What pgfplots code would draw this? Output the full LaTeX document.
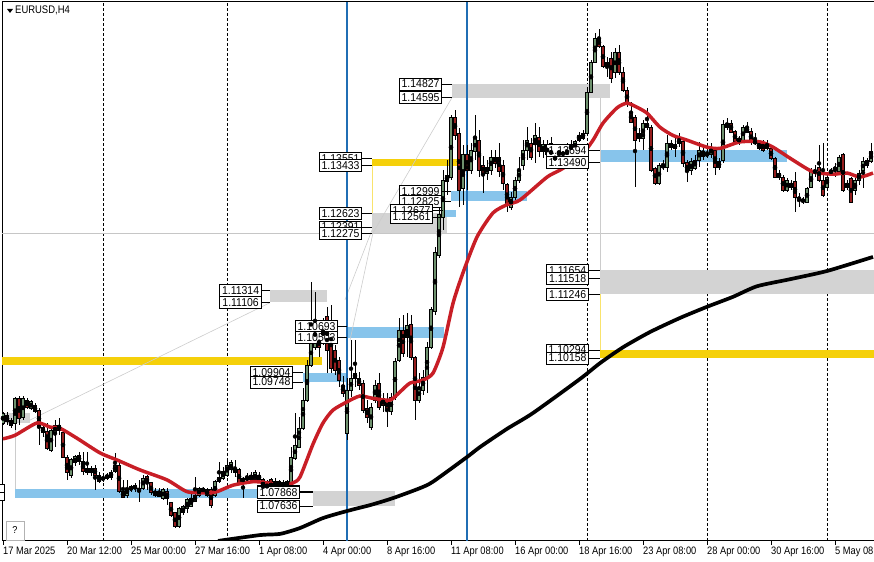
\documentclass[border=0pt]{standalone}
\usepackage{fontspec}
\usepackage{pgfplots}
\usepackage{pgfplotstable}
\pgfplotsset{compat=1.18}
\setmainfont{Liberation Sans}
\newfontfamily\mtfont[FakeStretch=0.86]{Liberation Sans}
\newfontfamily\lblfont[FakeStretch=0.92]{Liberation Sans}

\definecolor{zgray}{RGB}{211,211,211}
\definecolor{zblue}{RGB}{135,196,235}
\definecolor{zgold}{RGB}{245,208,10}
\definecolor{maRed}{RGB}{200,30,38}
\definecolor{bull}{RGB}{110,145,110}
\definecolor{bear}{RGB}{150,30,30}
\definecolor{vblue}{RGB}{32,110,180}

\tikzset{lblbox/.style={draw=black, fill=white, line width=0.8bp, inner sep=0pt,
  minimum width=42bp, minimum height=12bp, font=\lblfont\fontsize{11.4bp}{12bp}\selectfont}}

% zone: colour, k from, k to, price low, price high
\newcommand{\zone}[5]{\addplot[fill=#1, draw=none, forget plot] coordinates {(#2,#4) (#3,#4) (#3,#5) (#2,#5)} -- cycle;}
% price label: box right edge (k), zone start (k), price
\newcommand{\plabel}[3]{%
  \draw[black, line width=0.8bp] (axis cs:#1,#3) -- (axis cs:#2,#3);
  \node[lblbox, anchor=east] at (axis cs:#1,#3) {#3};}

% EURUSD H4 candles, k = bar number from the left edge
\pgfplotstableread{
k o h l c
0 1.0905 1.0924 1.0901 1.0922
1 1.0918 1.0924 1.0901 1.0907
2 1.0910 1.0913 1.0896 1.0901
3 1.0905 1.0949 1.0893 1.0947
4 1.0947 1.0951 1.0901 1.0913
5 1.0915 1.0951 1.0910 1.0947
6 1.0944 1.0947 1.0929 1.0932
7 1.0930 1.0944 1.0927 1.0941
8 1.0935 1.0939 1.0922 1.0924
9 1.0927 1.0930 1.0867 1.0898
10 1.0898 1.0905 1.0881 1.0888
11 1.0890 1.0905 1.0859 1.0862
12 1.0859 1.0896 1.0856 1.0893
13 1.0888 1.0910 1.0864 1.0901
14 1.0901 1.0913 1.0884 1.0893
15 1.0888 1.0890 1.0845 1.0847
16 1.0847 1.0850 1.0808 1.0820
17 1.0816 1.0845 1.0811 1.0842
18 1.0837 1.0850 1.0832 1.0847
19 1.0850 1.0856 1.0833 1.0839
20 1.0839 1.0856 1.0816 1.0822
21 1.0820 1.0856 1.0816 1.0828
22 1.0827 1.0832 1.0815 1.0820
23 1.0828 1.0833 1.0791 1.0816
24 1.0816 1.0822 1.0803 1.0805
25 1.0808 1.0816 1.0805 1.0813
26 1.0811 1.0820 1.0808 1.0816
27 1.0813 1.0825 1.0808 1.0820
28 1.0822 1.0854 1.0820 1.0833
29 1.0833 1.0837 1.0786 1.0788
30 1.0788 1.0808 1.0777 1.0779
31 1.0782 1.0808 1.0777 1.0794
32 1.0791 1.0799 1.0788 1.0796
33 1.0798 1.0803 1.0788 1.0793
34 1.0794 1.0808 1.0771 1.0788
35 1.0794 1.0816 1.0791 1.0811
36 1.0813 1.0816 1.0791 1.0803
37 1.0803 1.0805 1.0782 1.0786
38 1.0782 1.0794 1.0779 1.0788
39 1.0789 1.0794 1.0779 1.0779
40 1.0777 1.0794 1.0774 1.0791
41 1.0788 1.0794 1.0765 1.0777
42 1.0769 1.0771 1.0745 1.0748
43 1.0752 1.0754 1.0726 1.0728
44 1.0728 1.0762 1.0726 1.0760
45 1.0752 1.0765 1.0748 1.0762
46 1.0760 1.0777 1.0752 1.0774
47 1.0762 1.0786 1.0762 1.0777
48 1.0771 1.0813 1.0771 1.0782
49 1.0782 1.0796 1.0779 1.0794
50 1.0794 1.0796 1.0786 1.0788
51 1.0782 1.0794 1.0779 1.0791
52 1.0791 1.0796 1.0760 1.0765
53 1.0782 1.0808 1.0779 1.0805
54 1.0805 1.0839 1.0803 1.0813
55 1.0811 1.0830 1.0808 1.0822
56 1.0816 1.0842 1.0813 1.0833
57 1.0825 1.0842 1.0820 1.0837
58 1.0828 1.0842 1.0813 1.0820
59 1.0825 1.0828 1.0799 1.0803
60 1.0811 1.0813 1.0777 1.0805
61 1.0808 1.0820 1.0805 1.0813
62 1.0808 1.0822 1.0805 1.0816
63 1.0808 1.0825 1.0803 1.0820
64 1.0816 1.0822 1.0805 1.0808
65 1.0808 1.0811 1.0782 1.0794
66 1.0791 1.0808 1.0786 1.0805
67 1.0808 1.0811 1.0788 1.0791
68 1.0796 1.0811 1.0791 1.0805
69 1.0796 1.0808 1.0791 1.0805
70 1.0803 1.0808 1.0791 1.0796
71 1.0799 1.0808 1.0794 1.0805
72 1.0803 1.0864 1.0796 1.0847
73 1.0845 1.0922 1.0842 1.0867
74 1.0864 1.0915 1.0862 1.0896
75 1.0896 1.0964 1.0893 1.0944
76 1.0944 1.1012 1.0941 1.1003
77 1.1003 1.1146 1.1000 1.1046
78 1.1034 1.1129 1.1029 1.1078
79 1.1051 1.1063 1.1017 1.1034
80 1.1046 1.1084 1.1038 1.1069
81 1.1086 1.1103 1.0990 1.1029
82 1.1078 1.1106 1.0990 1.0998
83 1.1029 1.1038 1.0986 1.0995
84 1.1012 1.1017 1.0966 1.0978
85 1.0969 1.0986 1.0949 1.0956
86 1.0888 1.0981 1.0876 1.0961
87 1.0961 1.1046 1.0949 1.0981
88 1.0981 1.1046 1.0966 1.0990
89 1.0981 1.0992 1.0961 1.0969
90 1.0973 1.0978 1.0922 1.0927
91 1.0930 1.0944 1.0905 1.0915
92 1.0898 1.0939 1.0893 1.0932
93 1.0944 1.0978 1.0939 1.0969
94 1.0973 1.0990 1.0927 1.0932
95 1.0947 1.0956 1.0924 1.0935
96 1.0944 1.0956 1.0898 1.0927
97 1.0924 1.0956 1.0918 1.0949
98 1.0949 1.1015 1.0944 1.1009
99 1.1012 1.1084 1.1009 1.1063
100 1.1063 1.1089 1.1017 1.1024
101 1.1051 1.1093 1.1017 1.1072
102 1.1072 1.1089 1.1012 1.1017
103 1.1017 1.1020 1.0910 1.0944
104 1.0944 1.0990 1.0939 1.0966
105 1.0961 1.0995 1.0952 1.0983
106 1.0983 1.1043 1.0956 1.1034
107 1.1034 1.1103 1.1032 1.1098
108 1.1095 1.1205 1.1089 1.1195
109 1.1191 1.1277 1.1186 1.1260
110 1.1256 1.1336 1.1234 1.1319
111 1.1316 1.1353 1.1293 1.1327
112 1.1324 1.1430 1.1319 1.1426
113 1.1426 1.1438 1.1387 1.1395
114 1.1399 1.1407 1.1273 1.1302
115 1.1305 1.1379 1.1277 1.1362
116 1.1362 1.1379 1.1302 1.1336
117 1.1336 1.1382 1.1330 1.1370
118 1.1367 1.1430 1.1353 1.1390
119 1.1387 1.1404 1.1324 1.1336
120 1.1344 1.1360 1.1297 1.1331
121 1.1331 1.1353 1.1319 1.1341
122 1.1336 1.1370 1.1327 1.1358
123 1.1358 1.1370 1.1339 1.1348
124 1.1358 1.1382 1.1324 1.1333
125 1.1344 1.1353 1.1302 1.1314
126 1.1311 1.1314 1.1265 1.1277
127 1.1273 1.1299 1.1268 1.1290
128 1.1290 1.1324 1.1285 1.1319
129 1.1319 1.1358 1.1314 1.1336
130 1.1344 1.1387 1.1336 1.1370
131 1.1370 1.1409 1.1353 1.1387
132 1.1382 1.1390 1.1353 1.1358
133 1.1379 1.1416 1.1348 1.1395
134 1.1392 1.1409 1.1358 1.1367
135 1.1367 1.1387 1.1356 1.1379
136 1.1379 1.1387 1.1353 1.1362
137 1.1382 1.1392 1.1341 1.1350
138 1.1350 1.1370 1.1344 1.1362
139 1.1362 1.1379 1.1348 1.1370
140 1.1370 1.1375 1.1353 1.1358
141 1.1358 1.1382 1.1353 1.1373
142 1.1370 1.1387 1.1365 1.1379
143 1.1373 1.1387 1.1370 1.1384
144 1.1387 1.1401 1.1384 1.1395
145 1.1390 1.1404 1.1387 1.1399
146 1.1399 1.1478 1.1395 1.1469
147 1.1469 1.1524 1.1467 1.1520
148 1.1520 1.1570 1.1519 1.1561
149 1.1561 1.1577 1.1544 1.1546
150 1.1546 1.1549 1.1510 1.1512
151 1.1512 1.1529 1.1495 1.1519
152 1.1527 1.1537 1.1485 1.1493
153 1.1502 1.1544 1.1493 1.1536
154 1.1536 1.1549 1.1498 1.1502
155 1.1503 1.1512 1.1469 1.1472
156 1.1472 1.1478 1.1443 1.1450
157 1.1435 1.1452 1.1416 1.1418
158 1.1426 1.1430 1.1307 1.1387
159 1.1390 1.1407 1.1384 1.1399
160 1.1390 1.1421 1.1370 1.1416
161 1.1416 1.1442 1.1404 1.1409
162 1.1409 1.1413 1.1333 1.1336
163 1.1339 1.1341 1.1311 1.1314
164 1.1314 1.1348 1.1311 1.1344
165 1.1341 1.1353 1.1336 1.1344
166 1.1341 1.1395 1.1333 1.1382
167 1.1375 1.1387 1.1370 1.1382
168 1.1379 1.1395 1.1358 1.1373
169 1.1382 1.1399 1.1375 1.1387
170 1.1384 1.1387 1.1341 1.1348
171 1.1348 1.1353 1.1316 1.1333
172 1.1336 1.1356 1.1327 1.1350
173 1.1339 1.1362 1.1336 1.1353
174 1.1353 1.1384 1.1341 1.1370
175 1.1368 1.1379 1.1353 1.1360
176 1.1362 1.1373 1.1356 1.1363
177 1.1363 1.1382 1.1356 1.1373
178 1.1370 1.1373 1.1327 1.1341
179 1.1350 1.1356 1.1336 1.1341
180 1.1353 1.1421 1.1348 1.1413
181 1.1409 1.1424 1.1404 1.1416
182 1.1416 1.1421 1.1399 1.1401
183 1.1401 1.1404 1.1382 1.1384
184 1.1390 1.1395 1.1379 1.1385
185 1.1387 1.1413 1.1382 1.1409
186 1.1409 1.1418 1.1399 1.1401
187 1.1401 1.1407 1.1379 1.1384
188 1.1385 1.1399 1.1379 1.1382
189 1.1373 1.1387 1.1370 1.1382
190 1.1382 1.1387 1.1367 1.1370
191 1.1373 1.1387 1.1370 1.1382
192 1.1373 1.1375 1.1353 1.1356
193 1.1356 1.1358 1.1324 1.1324
194 1.1324 1.1336 1.1319 1.1331
195 1.1324 1.1327 1.1299 1.1302
196 1.1302 1.1322 1.1299 1.1319
197 1.1314 1.1319 1.1302 1.1307
198 1.1316 1.1333 1.1265 1.1290
199 1.1290 1.1297 1.1273 1.1285
200 1.1283 1.1290 1.1278 1.1285
201 1.1281 1.1307 1.1280 1.1305
202 1.1307 1.1339 1.1305 1.1333
203 1.1331 1.1344 1.1324 1.1336
204 1.1341 1.1379 1.1316 1.1319
205 1.1319 1.1382 1.1290 1.1293
206 1.1307 1.1331 1.1305 1.1324
207 1.1331 1.1339 1.1327 1.1336
208 1.1336 1.1348 1.1324 1.1341
209 1.1333 1.1362 1.1331 1.1358
210 1.1362 1.1365 1.1299 1.1302
211 1.1314 1.1319 1.1302 1.1307
212 1.1322 1.1324 1.1280 1.1281
213 1.1302 1.1322 1.1293 1.1319
214 1.1319 1.1336 1.1311 1.1331
215 1.1336 1.1358 1.1305 1.1350
216 1.1344 1.1356 1.1339 1.1353
217 1.1350 1.1382 1.1348 1.1367
}\candles

\begin{document}
\begin{tikzpicture}
\path[use as bounding box] (0,0) rectangle (874bp,562bp);
\begin{axis}[
  at={(2bp,21bp)}, anchor=south west,
  scale only axis, width=872bp, height=539bp,
  xmin=-0.25, xmax=217.75, ymin=1.07039, ymax=1.16224,
  axis x line=bottom, axis y line=left,
  axis line style={-, black, line width=1bp},
  ytick=\empty,
  xtick={0,16,...,208},
  xticklabels={17 Mar 2025,20 Mar 12:00,25 Mar 00:00,27 Mar 16:00,1 Apr 08:00,4 Apr 00:00,8 Apr 16:00,11 Apr 08:00,16 Apr 00:00,18 Apr 16:00,23 Apr 08:00,28 Apr 00:00,30 Apr 16:00,5 May 08:00},
  tick align=outside, major tick length=4bp, tick style={black, line width=0.8bp},
  xticklabel style={font=\mtfont\fontsize{10.8bp}{12bp}\selectfont, anchor=north west, inner sep=0pt, yshift=-2bp},
  extra x ticks={25,56,86,116,146,176,206},
  extra x tick labels={},
  extra x tick style={grid=major, major tick length=0pt},
  major grid style={black, line width=0.9bp, dash pattern=on 3bp off 2bp},
]
% zones
\zone{zgray}{-1}{6.75}{1.0905}{1.0922}
\zone{zgold}{-1}{79.75}{1.1004}{1.1017}
\zone{zblue}{3}{74.25}{1.0778}{1.0793}
\zone{zgray}{77.5}{98}{1.07636}{1.07888}
\zone{zgray}{66.75}{81}{1.11106}{1.11314}
\zone{zblue}{75}{86}{1.09748}{1.09904}
\zone{zblue}{86}{110.25}{1.10503}{1.10693}
\zone{zgray}{92.25}{111}{1.12275}{1.12623}
\zone{zgold}{92.25}{114.25}{1.13433}{1.13551}
\zone{zblue}{110}{113.25}{1.12561}{1.12677}
\zone{zblue}{112}{131}{1.12825}{1.12999}
\zone{zgray}{112.25}{151.75}{1.14595}{1.14827}
\zone{zblue}{149.25}{196}{1.13490}{1.13694}
\zone{zgray}{149.25}{218}{1.11246}{1.11654}
\zone{zgold}{149.25}{218}{1.10158}{1.10294}

% thin object lines
\addplot[gray!45, line width=0.6bp, forget plot] coordinates {(-1,1.12275) (218,1.12275)};
\addplot[gray!40, line width=0.6bp, forget plot] coordinates {(6.75,1.0910) (66.75,1.1110)};
\addplot[gray!40, line width=0.6bp, forget plot] coordinates {(85.5,1.1115) (92.25,1.1234)};
\addplot[gray!40, line width=0.6bp, forget plot] coordinates {(86.75,1.1046) (92.5,1.1229)};
\addplot[gray!40, line width=0.6bp, forget plot] coordinates {(92.5,1.1229) (112.25,1.14595)};
\addplot[gray!40, line width=0.6bp, forget plot] coordinates {(3,1.0793) (3,1.0910)};
\addplot[gray!40, line width=0.6bp, forget plot] coordinates {(149.25,1.14595) (149.25,1.11654)};
\addplot[zgold!60, line width=0.6bp, forget plot] coordinates {(149.25,1.11246) (149.25,1.10294)};
\addplot[zgold!60, line width=0.6bp, forget plot] coordinates {(92.25,1.13433) (92.25,1.12623)};

% vertical blue lines
\addplot[vblue, line width=2bp, forget plot] coordinates {(86,1.06) (86,1.17)};
\addplot[vblue, line width=2bp, forget plot] coordinates {(116,1.06) (116,1.17)};

% candles: wicks, body outlines, body fill
\addplot[only marks, mark=none, forget plot,
  error bars/.cd, y dir=both, y explicit, error mark=none,
  error bar style={draw=black, line width=1bp}]
  table[x=k, y expr={(\thisrow{h}+\thisrow{l})/2}, y error expr={(\thisrow{h}-\thisrow{l})/2}] {\candles};
\addplot[only marks, mark=none, forget plot,
  error bars/.cd, y dir=both, y explicit, error mark=none,
  error bar style={draw=black, line width=3.3bp}]
  table[x=k, y expr={(\thisrow{o}+\thisrow{c})/2}, y error expr={abs(\thisrow{c}-\thisrow{o})/2+0.00009}] {\candles};
\addplot[only marks, mark=none, forget plot,
  restrict expr to domain={\thisrow{c}-\thisrow{o}}{0:1},
  error bars/.cd, y dir=both, y explicit, error mark=none,
  error bar style={draw=bull, line width=1.6bp}]
  table[x=k, y expr={(\thisrow{o}+\thisrow{c})/2}, y error expr={max(abs(\thisrow{c}-\thisrow{o})/2-0.00008,0.000001)}] {\candles};
\addplot[only marks, mark=none, forget plot,
  restrict expr to domain={\thisrow{c}-\thisrow{o}}{-1:-0.00000001},
  error bars/.cd, y dir=both, y explicit, error mark=none,
  error bar style={draw=bear, line width=1.6bp}]
  table[x=k, y expr={(\thisrow{o}+\thisrow{c})/2}, y error expr={max(abs(\thisrow{c}-\thisrow{o})/2-0.00008,0.000001)}] {\candles};

% moving averages
\addplot[maRed, line width=3.5bp, smooth, tension=0.4, forget plot] coordinates {
(0,1.0878) (3,1.0884) (8.5,1.0905) (11.75,1.0898) (14.25,1.0896) (18.5,1.0879)
(24.25,1.0854) (28.5,1.0842) (34.25,1.0825) (41,1.0808) (46,1.0788) (51,1.0786)
(53.5,1.0788) (57.5,1.0799) (62.5,1.0805) (66,1.0803) (70,1.0798) (72.5,1.0803)
(74.25,1.0813) (77.5,1.0869) (80,1.0905) (82.5,1.0927) (86,1.0941) (89.25,1.0951)
(92.5,1.0947) (96.75,1.0944) (99.25,1.0958) (101.75,1.0973) (105,1.0978) (107.5,1.0990)
(110,1.1034) (112.5,1.1109) (115,1.1161) (118.5,1.1222) (122.5,1.1263) (126,1.1277)
(129.25,1.1285) (136,1.1324) (139.25,1.1336) (144.25,1.1358) (147.5,1.1387) (150,1.1416)
(153.5,1.1442) (156,1.1450) (158.5,1.1443) (161,1.1433) (164.25,1.1409) (167.5,1.1395)
(171,1.1387) (176,1.1375) (179.25,1.1373) (184.25,1.1384) (189.25,1.1384) (192.5,1.1375)
(197.5,1.1353) (202.5,1.1333) (207.5,1.1329) (211,1.1331) (214.25,1.1324) (217.5,1.1331)
};
\addplot[black, line width=3.7bp, smooth, tension=0.4, forget plot] coordinates {
(53.75,1.0704) (64.25,1.0714) (69.25,1.0716) (74.25,1.0726) (80,1.0743) (86,1.0755)
(91.75,1.0765) (97.5,1.0777) (104.25,1.0794) (107.5,1.0805) (116,1.0847) (119.25,1.0864)
(126,1.0895) (132.5,1.0922) (144.25,1.0980) (149.25,1.1007) (155,1.1034) (161.75,1.1060)
(169.25,1.1084) (176,1.1103) (182.5,1.1120) (188.5,1.1138) (196.75,1.1150) (206,1.1164)
(217.5,1.1188)
};

% price labels
\plabel{109.75}{112.25}{1.14827}
\plabel{109.75}{112.25}{1.14595}
\plabel{89.75}{92.25}{1.13551}
\plabel{89.75}{92.25}{1.13433}
\plabel{109.75}{112}{1.12999}
\plabel{109.75}{112}{1.12825}
\plabel{89.75}{92.25}{1.12623}
\plabel{89.75}{92.25}{1.12391}
\plabel{89.75}{92.25}{1.12275}
\plabel{107.5}{110}{1.12677}
\plabel{107.5}{110}{1.12561}
\plabel{64.75}{66.75}{1.11314}
\plabel{64.75}{66.75}{1.11106}
\plabel{83.75}{86}{1.10693}
\plabel{83.75}{86}{1.10503}
\plabel{72.5}{75}{1.09904}
\plabel{72.5}{75}{1.09748}
\plabel{74.25}{77.5}{1.07888}
\plabel{74.25}{77.5}{1.07868}
\plabel{74.25}{77.5}{1.07636}
\plabel{146.5}{149.25}{1.13694}
\plabel{146.5}{149.25}{1.13490}
\plabel{146.5}{149.25}{1.11654}
\plabel{146.5}{149.25}{1.11518}
\plabel{146.5}{149.25}{1.11246}
\plabel{146.5}{149.25}{1.10294}
\plabel{146.5}{149.25}{1.10158}
\end{axis}
% frame top line, title and help button
\draw[black, line width=1bp] (2bp,560bp) -- (874bp,560bp);
\fill[black] (7bp,553bp) -- (13bp,553bp) -- (10bp,549bp) -- cycle;
\node[anchor=west, inner sep=0pt, font=\mtfont\fontsize{11bp}{12bp}\selectfont] at (15bp,551.5bp) {EURUSD,H4};
\draw[gray!60, line width=0.8bp, fill=white] (6bp,22bp) rectangle (24bp,41bp);
\node[font=\lblfont\fontsize{10bp}{12bp}\selectfont] at (15bp,31.5bp) {?};
\draw[black, line width=0.8bp, fill=white] (-10bp,70bp) rectangle (4bp,78bp);
\draw[black, line width=0.8bp, fill=white] (-10bp,62bp) rectangle (4bp,70bp);
\end{tikzpicture}
\end{document}
